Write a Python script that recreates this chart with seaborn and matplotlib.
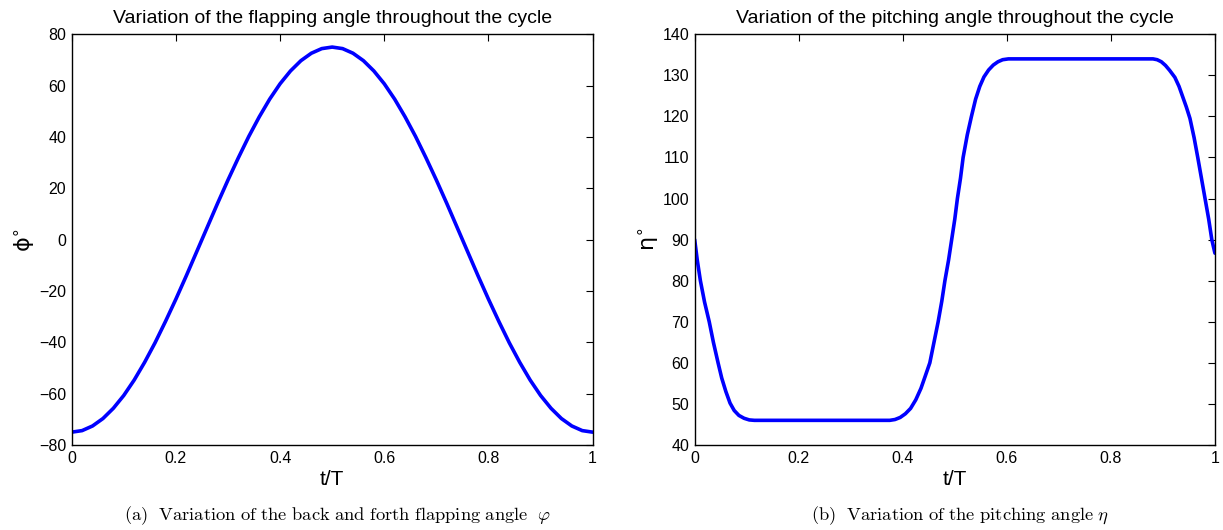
import numpy as np
import matplotlib
matplotlib.use("Agg")
import matplotlib.pyplot as plt
import seaborn as sns

# =========================================
# DATA
# =========================================

t_flap = [0.00, 0.02, 0.04, 0.06, 0.08, 0.10, 0.12, 0.14, 0.16, 0.18,
          0.20, 0.22, 0.24, 0.26, 0.28, 0.30, 0.32, 0.34, 0.36, 0.38,
          0.40, 0.42, 0.44, 0.46, 0.48, 0.50, 0.52, 0.54, 0.56, 0.58,
          0.60, 0.62, 0.64, 0.66, 0.68, 0.70, 0.72, 0.74, 0.76, 0.78,
          0.80, 0.82, 0.84, 0.86, 0.88, 0.90, 0.92, 0.94, 0.96, 0.98, 1.00]
phi = [-75.0, -74.4, -72.6, -69.7, -65.7, -60.7, -54.7, -47.8, -40.2, -31.9,
       -23.2, -14.1, -4.7, 4.7, 14.1, 23.2, 31.9, 40.2, 47.8, 54.7,
       60.7, 65.7, 69.7, 72.6, 74.4, 75.0, 74.4, 72.6, 69.7, 65.7,
       60.7, 54.7, 47.8, 40.2, 31.9, 23.2, 14.1, 4.7, -4.7, -14.1,
       -23.2, -31.9, -40.2, -47.8, -54.7, -60.7, -65.7, -69.7, -72.6, -74.4, -75.0]

t_pitch = [0.000, 0.005, 0.011, 0.019, 0.028, 0.036, 0.045, 0.052, 0.060,
           0.068, 0.076, 0.085, 0.095, 0.105, 0.115,
           0.375, 0.385, 0.395, 0.405, 0.415, 0.425, 0.435, 0.443, 0.452,
           0.460, 0.468, 0.475, 0.481, 0.488, 0.494, 0.500, 0.505, 0.511,
           0.516, 0.524, 0.532, 0.540, 0.548, 0.556, 0.565, 0.574, 0.583,
           0.592, 0.603,
           0.881, 0.889, 0.897, 0.905, 0.913, 0.923, 0.931, 0.938, 0.945,
           0.952, 0.960, 0.967, 0.974, 0.981, 0.988, 0.994, 1.000]
eta = [90.0, 85.0, 80.0, 74.8, 70.0, 65.0, 60.0, 56.3, 53.0,
       50.2, 48.4, 47.2, 46.5, 46.1, 46.0,
       46.0, 46.2, 46.7, 47.6, 48.9, 51.0, 53.8, 56.7, 60.0,
       65.0, 70.0, 75.0, 80.0, 85.0, 90.0, 95.0, 100.0, 105.0,
       110.0, 115.5, 120.0, 124.2, 127.3, 129.6, 131.3, 132.5, 133.3,
       133.8, 134.0,
       134.0, 133.8, 133.3, 132.4, 131.2, 129.5, 127.3, 124.8, 122.3,
       119.5, 114.8, 110.0, 105.0, 100.0, 95.0, 90.0, 86.7]

x_ticks = [0, 0.2, 0.4, 0.6, 0.8, 1]
x_tick_labels = ["0", "0.2", "0.4", "0.6", "0.8", "1"]
phi_ticks = [-80, -60, -40, -20, 0, 20, 40, 60, 80]
eta_ticks = [40, 50, 60, 70, 80, 90, 100, 110, 120, 130, 140]

titles = ["Variation of the flapping angle throughout the cycle",
          "Variation of the pitching angle throughout the cycle"]
captions = [r"$\mathrm{(a)\ \ Variation\ of\ the\ back\ and\ forth\ flapping\ angle}\ \ \varphi$",
            r"$\mathrm{(b)\ \ Variation\ of\ the\ pitching\ angle}\ \eta$"]
ylabels = [r"$\mathrm{\phi}^{\circ}$", r"$\mathrm{\eta}^{\circ}$"]

# =========================================
# STYLE
# =========================================

sns.set_style("white")
plt.rcParams["font.family"] = ["Liberation Sans", "DejaVu Sans"]
plt.rcParams["mathtext.fontset"] = "cm"
plt.rcParams["text.color"] = "black"
plt.rcParams["axes.labelcolor"] = "black"
plt.rcParams["xtick.color"] = "black"
plt.rcParams["ytick.color"] = "black"

fig = plt.figure(figsize=(12.23, 5.30), dpi=100)

ax1 = fig.add_axes([0.0586, 0.1604, 0.426, 0.775])
ax2 = fig.add_axes([0.568, 0.1604, 0.4254, 0.775])

sns.lineplot(x=t_flap, y=phi, ax=ax1, color="#0000ff", linewidth=2.6)
sns.lineplot(x=t_pitch, y=eta, ax=ax2, color="#0000ff", linewidth=2.6)

for i, (ax, yt) in enumerate(zip([ax1, ax2], [phi_ticks, eta_ticks])):
    ax.set_xlim(0, 1)
    ax.set_ylim(yt[0], yt[-1])
    ax.set_xticks(x_ticks)
    ax.set_xticklabels(x_tick_labels)
    ax.set_yticks(yt)
    ax.tick_params(direction="in", top=True, right=True, length=5,
                   width=0.8, labelsize=11.5, pad=4)
    for s in ax.spines.values():
        s.set_color("black")
        s.set_linewidth(1.0)
    ax.set_title(titles[i], fontsize=14, pad=8)
    ax.set_xlabel("t/T", fontsize=15, labelpad=3)
    ax.set_ylabel(ylabels[i], fontsize=16, labelpad=1,
                  math_fontfamily="dejavusans")
    pos = ax.get_position()
    fig.text(pos.x0 + pos.width / 2 + 0.004, 0.027, captions[i],
             ha="center", va="center", fontsize=13.3)

plt.savefig("out.png", dpi=100)
plt.close()
